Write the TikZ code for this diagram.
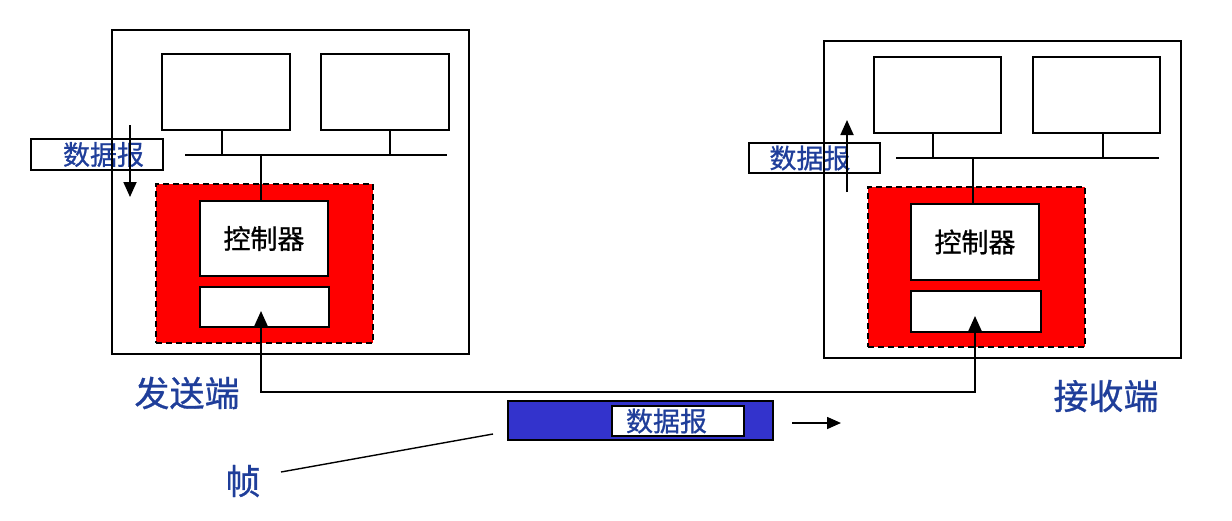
\documentclass[tikz,border=0pt]{standalone}
\usepackage{fontspec}
\setmainfont{Noto Sans CJK SC}[FakeBold=0.8]
\usetikzlibrary{arrows.meta}
\definecolor{txtblue}{HTML}{1F3E9A}
\definecolor{framefill}{HTML}{3333CC}
\tikzset{
  box/.style={draw=black, line width=1.4pt, fill=white, inner sep=0pt, rectangle},
  outer/.style={draw=black, line width=1.2pt, inner sep=0pt, rectangle},
  nic/.style={draw=black, dash pattern=on 6pt off 4pt, line width=1.2pt, fill=red, inner sep=0pt, rectangle},
  lbl/.style={draw=black, line width=1.2pt, inner sep=0pt, rectangle, text=txtblue, font=\fontsize{27}{27}\selectfont},
  big/.style={text=txtblue, font=\fontsize{35}{35}\selectfont, inner sep=0pt},
  wire/.style={line width=1.3pt},
  arr/.style={line width=1.8pt, -{Triangle[width=13pt,length=15pt]}},
}
\begin{document}
\begin{tikzpicture}[x=1pt,y=-1pt]
\useasboundingbox (0,0) rectangle (1232,520);
% ---------- sender ----------
\node[lbl, minimum width=132, minimum height=31] (Ldg) at (97,154.5) {\kern13pt 数据报};
\node[outer, minimum width=357, minimum height=324] (Lframe) at (290.5,192) {};
\node[box, minimum width=128, minimum height=76] (Lh1) at (226,92) {};
\node[box, minimum width=128, minimum height=76] (Lh2) at (385,92) {};
\coordinate (Lbusl) at (185,155);
\coordinate (Lbusr) at (447,155);
\draw[wire] (Lbusl) -- (Lbusr);
\draw[wire] (Lh1.south -| 222,0) -- (222,155);
\draw[wire] (Lh2.south -| 390,0) -- (390,155);
\node[nic, minimum width=217, minimum height=159] (Lnic) at (264.5,263.5) {};
\node[box, minimum width=128, minimum height=75, font=\fontsize{27}{27}\selectfont] (Lctl) at (264,238.5) {控制器};
\node[box, minimum width=129, minimum height=40] (Llow) at (264.5,307) {};
\draw[wire] (Lctl.north -| 261,0) -- (261,155);
\coordinate (Ldgtop) at (130,125);
\coordinate (Ldgbot) at (130,197);
\draw[arr] (Ldgtop) -- (Ldgbot);
\node[big] (Lname) at (187,393) {发送端};
% ---------- receiver ----------
\node[lbl, minimum width=131, minimum height=30] (Rdg) at (814.5,158) {数据报\kern9pt};
\node[outer, minimum width=357, minimum height=317] (Rframe) at (1002.5,199.5) {};
\node[box, minimum width=127, minimum height=76] (Rh1) at (937.5,95) {};
\node[box, minimum width=127, minimum height=76] (Rh2) at (1096.5,95) {};
\coordinate (Rbusl) at (896,158);
\coordinate (Rbusr) at (1159,158);
\draw[wire] (Rbusl) -- (Rbusr);
\draw[wire] (Rh1.south -| 933,0) -- (933,158);
\draw[wire] (Rh2.south -| 1103,0) -- (1103,158);
\node[nic, minimum width=217, minimum height=160] (Rnic) at (976.5,267) {};
\node[box, minimum width=128, minimum height=76, font=\fontsize{27}{27}\selectfont] (Rctl) at (975,242) {控制器};
\node[box, minimum width=130, minimum height=41] (Rlow) at (976,311.5) {};
\draw[wire] (Rctl.north -| 973,0) -- (973,158);
\coordinate (Rdgbot) at (847,192);
\coordinate (Rdgtop) at (847,120);
\draw[arr] (Rdgbot) -- (Rdgtop);
\node[big] (Rname) at (1106,396) {接收端};
% ---------- link ----------
\coordinate (Ltip) at (261,311);
\coordinate (Rtip) at (975,316);
\draw[line width=1.8pt, {Triangle[width=13pt,length=15pt]}-{Triangle[width=13pt,length=15pt]}]
  (Ltip) -- (261,392) -- (975,392) -- (Rtip);
% ---------- frame ----------
\node[draw=black, line width=1.4pt, fill=framefill, inner sep=0pt, minimum width=265, minimum height=39] (Frm) at (640.5,420.5) {};
\node[box, minimum width=132, minimum height=30, text=txtblue, font=\fontsize{27}{27}\selectfont] (Fdg) at (678,421) {数据报\kern23pt};
\coordinate (Fa) at (792,423);
\coordinate (Fb) at (841,423);
\draw[line width=1.6pt, -{Triangle[width=12pt,length=14pt]}] (Fa) -- (Fb);
\node[big] (Zhen) at (243,481) {帧};
\coordinate (Zl) at (281,472);
\coordinate (Zr) at (493,434);
\draw[line width=1.4pt] (Zl) -- (Zr);
\end{tikzpicture}
\end{document}
